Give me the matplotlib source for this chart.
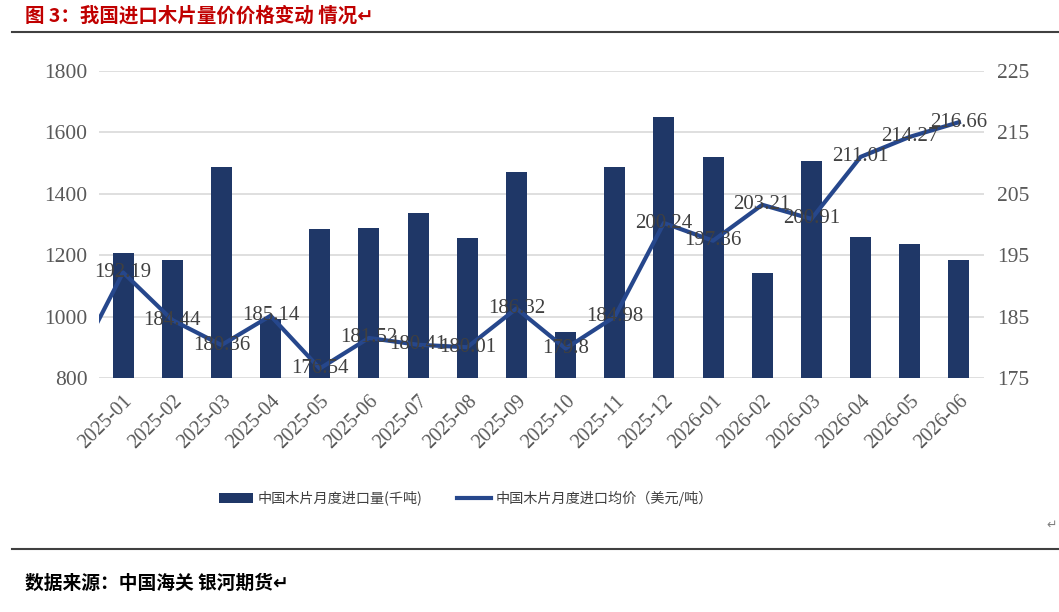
import matplotlib
matplotlib.use("Agg")
import matplotlib.pyplot as plt
from matplotlib.patches import Patch
from matplotlib.lines import Line2D

months = ["2025-01", "2025-02", "2025-03", "2025-04", "2025-05", "2025-06",
          "2025-07", "2025-08", "2025-09", "2025-10", "2025-11", "2025-12",
          "2026-01", "2026-02", "2026-03", "2026-04", "2026-05", "2026-06"]
volume = [1208, 1185, 1488, 992, 1284, 1288, 1337, 1255, 1470, 951, 1488, 1649,
          1521, 1141, 1508, 1258, 1235, 1185]
price = [192.19, 184.44, 180.36, 185.14, 176.54, 181.52, 180.41, 180.01, 186.32,
         179.8, 184.98, 200.24, 197.36, 203.21, 200.91, 211.01, 214.27, 216.66]
price_prev = 176.6  # previous month (clipped at the left edge)
left_ticks = [800, 1000, 1200, 1400, 1600, 1800]
right_ticks = [175, 185, 195, 205, 215, 225]

title = "图 3：我国进口木片量价价格变动 情况↵"
source = "数据来源：中国海关 银河期货↵"
bar_label = "中国木片月度进口量(千吨)"
line_label = "中国木片月度进口均价（美元/吨）"

CJK = ["Noto Sans CJK SC", "DejaVu Sans"]
SERIF = ["Liberation Serif", "DejaVu Serif"]
bar_color = "#1F3767"
line_color = "#26478C"
tick_color = "#595959"
label_color = "#404040"

fig = plt.figure(figsize=(10.59, 6.12), dpi=100)
W, H = 1059, 612

ax = fig.add_axes([98.5 / W, 1 - 378 / H, (983.5 - 98.5) / W, (378 - 71) / H])
x = list(range(len(months)))
ax.bar(x, volume, width=0.43, color=bar_color, zorder=2)
ax.set_xlim(-0.5, len(months) - 0.5)
ax.set_ylim(800, 1800)
ax.set_yticks(left_ticks)
ax.set_yticklabels([str(t) for t in left_ticks], family=SERIF, fontsize=15.5, color=tick_color)
ax.set_xticks(x)
ax.set_xticklabels(months, rotation=45, ha="right", rotation_mode="anchor",
                   family=SERIF, fontsize=14.5, color=tick_color)
ax.tick_params(axis="both", length=0, pad=8)
ax.tick_params(axis="x", pad=10)
ax.grid(axis="y", color="#D9D9D9", linewidth=1.2, zorder=0)
for s in ax.spines.values():
    s.set_visible(False)
ax.set_axisbelow(True)

ax2 = ax.twinx()
ax2.set_ylim(175, 225)
ax2.set_yticks(right_ticks)
ax2.set_yticklabels([str(t) for t in right_ticks], family=SERIF, fontsize=15.5, color=tick_color)
ax2.tick_params(axis="y", length=0, pad=10)
for s in ax2.spines.values():
    s.set_visible(False)
ax2.plot([-1] + x, [price_prev] + price, color=line_color, linewidth=3.0, zorder=3,
         solid_joinstyle="round", clip_on=True)
for xi, p in zip(x, price):
    ax2.text(xi, p, f"{p:g}", ha="center", va="center", family=SERIF, fontsize=15,
             color=label_color, zorder=4)
ax2.set_xlim(-0.5, len(months) - 0.5)

fig.text(25 / W, 1 - 16 / H, title, family=CJK, fontsize=14, fontweight="bold",
         color="#C00000", ha="left", va="center")
fig.add_artist(Line2D([12 / W, 1], [1 - 32 / H, 1 - 32 / H], color="#404040", linewidth=1.5))
fig.add_artist(Line2D([12 / W, 1], [1 - 549 / H, 1 - 549 / H], color="#404040", linewidth=1.5))
fig.text(1046 / W, 1 - 525 / H, "↵", family=CJK, fontsize=9, color="#808080",
         ha="left", va="center")
fig.text(25 / W, 1 - 583 / H, source, family=CJK, fontsize=13.5, fontweight="bold",
         color="#000000", ha="left", va="center")

handles = [Patch(facecolor=bar_color, edgecolor="none"),
           Line2D([0], [0], color=line_color, linewidth=3.0)]
fig.legend(handles, [bar_label, line_label], loc="center", bbox_to_anchor=(466 / W, 1 - 498 / H),
           ncol=2, frameon=False, prop={"family": CJK, "size": 10.2}, labelcolor=label_color,
           handlelength=2.4, handletextpad=0.3, columnspacing=2.5)

fig.savefig("out.png", dpi=100)
